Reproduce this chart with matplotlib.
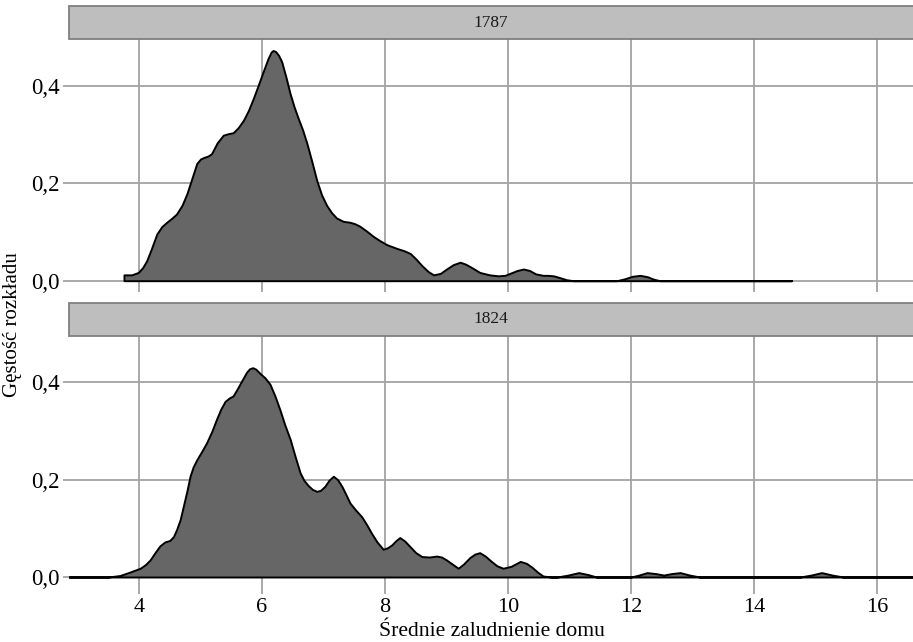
import matplotlib
matplotlib.use("Agg")
import matplotlib.pyplot as plt
from matplotlib.patches import Rectangle

plt.rcParams['font.family'] = ['Liberation Serif', 'DejaVu Serif']

# ---- data ----
panels = ["1787", "1824"]

x_1787 = [3.756, 3.756, 3.88, 3.99, 4.06, 4.125, 4.20, 4.29, 4.37, 4.45, 4.53, 4.61, 4.70,
          4.78, 4.86, 4.94, 5.00, 5.05, 5.12, 5.18, 5.27, 5.37, 5.45, 5.53, 5.61, 5.70,
          5.78, 5.86, 5.94, 6.02, 6.10, 6.15, 6.18, 6.22, 6.27, 6.32, 6.39, 6.455, 6.52,
          6.59, 6.66, 6.73, 6.81, 6.89, 6.97, 7.05, 7.13, 7.21, 7.32, 7.43, 7.51, 7.59,
          7.70, 7.81, 7.92, 8.03, 8.20, 8.30, 8.41, 8.50, 8.60, 8.70, 8.79, 8.90, 9.00,
          9.11, 9.22, 9.31, 9.41, 9.54, 9.70, 9.84, 9.95, 10.05, 10.15, 10.25, 10.35,
          10.45, 10.57, 10.65, 10.74, 10.85, 10.95, 11.06, 11.77, 11.90, 12.02, 12.15,
          12.27, 12.37, 12.47, 14.61]
y_1787 = [0.0, 0.012, 0.012, 0.017, 0.027, 0.041, 0.065, 0.096, 0.111, 0.120, 0.128, 0.137,
          0.155, 0.179, 0.210, 0.241, 0.250, 0.253, 0.256, 0.261, 0.283, 0.299, 0.302, 0.304,
          0.314, 0.330, 0.350, 0.375, 0.402, 0.430, 0.457, 0.470, 0.473, 0.471, 0.463, 0.450,
          0.418, 0.385, 0.358, 0.333, 0.310, 0.282, 0.245, 0.206, 0.176, 0.155, 0.140, 0.129,
          0.122, 0.120, 0.117, 0.112, 0.102, 0.091, 0.082, 0.074, 0.066, 0.062, 0.056, 0.045,
          0.031, 0.019, 0.012, 0.015, 0.024, 0.033, 0.038, 0.034, 0.027, 0.017, 0.012, 0.010,
          0.011, 0.016, 0.021, 0.024, 0.021, 0.014, 0.011, 0.011, 0.010, 0.006, 0.002, 0.0,
          0.0, 0.004, 0.009, 0.011, 0.008, 0.003, 0.0, 0.0]

x_1824 = [2.862, 3.50, 3.69, 3.85, 4.02, 4.10, 4.18, 4.26, 4.34, 4.42, 4.50, 4.56, 4.61,
          4.67, 4.72, 4.78, 4.83, 4.88, 4.94, 5.02, 5.10, 5.18, 5.26, 5.33, 5.40, 5.47,
          5.53, 5.60, 5.67, 5.75, 5.80, 5.85, 5.90, 5.97, 6.05, 6.13, 6.21, 6.29, 6.37,
          6.46, 6.54, 6.62, 6.68, 6.75, 6.82, 6.89, 6.95, 7.02, 7.09, 7.16, 7.23, 7.30,
          7.37, 7.43, 7.52, 7.62, 7.70, 7.78, 7.87, 7.97, 8.04, 8.11, 8.18, 8.24, 8.32,
          8.41, 8.50, 8.60, 8.72, 8.84, 8.92, 9.00, 9.10, 9.19, 9.28, 9.38, 9.46, 9.54,
          9.63, 9.73, 9.82, 9.92, 10.05, 10.20, 10.30, 10.39, 10.48, 10.57, 10.70, 10.80,
          10.98, 11.15, 11.30, 11.44, 12.00, 12.13, 12.26, 12.40, 12.53, 12.66, 12.80,
          12.95, 13.12, 14.75, 14.93, 15.10, 15.27, 15.45, 16.585]
y_1824 = [0.0, 0.0, 0.003, 0.010, 0.018, 0.025, 0.035, 0.050, 0.064, 0.072, 0.075, 0.083,
          0.097, 0.118, 0.145, 0.177, 0.207, 0.226, 0.241, 0.258, 0.276, 0.298, 0.324, 0.345,
          0.361, 0.368, 0.372, 0.387, 0.403, 0.421, 0.428, 0.430, 0.427, 0.418, 0.409, 0.396,
          0.372, 0.344, 0.313, 0.282, 0.247, 0.214, 0.199, 0.188, 0.180, 0.176, 0.178, 0.186,
          0.199, 0.207, 0.200, 0.186, 0.168, 0.152, 0.138, 0.124, 0.108, 0.090, 0.072, 0.057,
          0.060, 0.066, 0.075, 0.081, 0.074, 0.062, 0.050, 0.042, 0.041, 0.043, 0.041, 0.035,
          0.026, 0.018, 0.027, 0.040, 0.047, 0.050, 0.043, 0.032, 0.023, 0.018, 0.022, 0.032,
          0.028, 0.020, 0.010, 0.002, 0.0, 0.0, 0.004, 0.009, 0.005, 0.0, 0.0, 0.004, 0.009,
          0.007, 0.004, 0.007, 0.009, 0.004, 0.0, 0.0, 0.004, 0.009, 0.004, 0.0, 0.0]

x_ticks = [4, 6, 8, 10, 12, 14, 16]
x_ticklabels = ["4", "6", "8", "10", "12", "14", "16"]
y_ticks = [0.0, 0.2, 0.4]
y_ticklabels = ["0,0", "0,2", "0,4"]

x_label = "Średnie zaludnienie domu"
y_label = "Gęstość rozkładu"

# ---- layout ----
W, H = 913, 642
fig = plt.figure(figsize=(W / 100, H / 100), dpi=100)

def fx(px):
    return px / W

def fy(py):
    return 1 - py / H

left, right = 69, 913
panel_px = [(39.3, 291.5), (335.6, 587.8)]
strip_px = [(6.0, 39.3), (302.7, 335.6)]
grid_col = "#a3a3a3"

series = [(x_1787, y_1787), (x_1824, y_1824)]
for i, ((ptop, pbot), (stop, sbot), (xs, ys), name) in enumerate(
        zip(panel_px, strip_px, series, panels)):
    ax = fig.add_axes([fx(left), fy(pbot), fx(right) - fx(left), fy(ptop) - fy(pbot)])
    ax.set_xlim(2.862, 16.585)
    ax.set_ylim(-0.0222, 0.496)
    ax.set_facecolor("white")
    for s in ax.spines.values():
        s.set_visible(False)
    ax.set_xticks(x_ticks)
    ax.set_yticks(y_ticks)
    ax.grid(True, color=grid_col, linewidth=1.3)
    ax.set_axisbelow(True)
    ax.set_yticklabels(y_ticklabels, fontsize=16.5)
    ax.tick_params(axis="y", length=4, width=1.3, color=grid_col, pad=3)
    if i == 1:
        ax.set_xticklabels(x_ticklabels, fontsize=16)
        ax.tick_params(axis="x", length=4.5, width=1.3, color=grid_col, pad=3)
    else:
        ax.tick_params(axis="x", length=0, labelbottom=False)
    ax.fill_between(xs, ys, 0, facecolor="#666666", edgecolor="black",
                    linewidth=1.4, zorder=3)

    # strip
    rect = Rectangle((fx(left), fy(sbot)), 1.2, fy(stop) - fy(sbot),
                     transform=fig.transFigure, facecolor="#bebebe",
                     edgecolor="#7f7f7f", linewidth=1.3, clip_on=False)
    fig.patches.append(rect)
    fig.text(fx((left + right) / 2), fy((stop + sbot) / 2), name,
             ha="center", va="center", fontsize=12.5, color="#1a1a1a")

fig.text(fx(491.5), fy(636.5), x_label, ha="center", va="baseline", fontsize=15.6)
fig.text(fx(13), fy(325), y_label, ha="center", va="center", rotation=90,
         fontsize=15)

fig.savefig("out.png", dpi=100)
